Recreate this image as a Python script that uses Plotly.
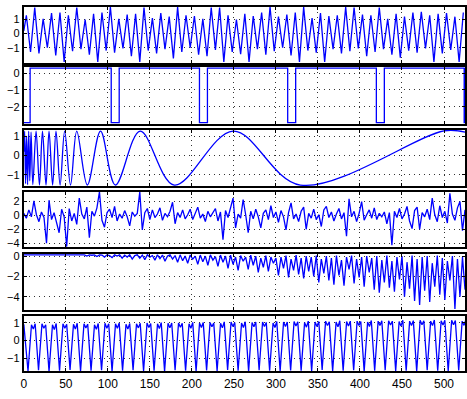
import plotly.graph_objects as go

# ---------------- data ----------------
X_MAX = 525

# 1) two-tone oscillation: peaks and troughs
P1_START = (0, 0.2)
P1_PEAK_X = [3, 13, 23, 33, 43, 53, 63, 73, 83, 93, 103, 113, 123, 133, 143, 153, 163, 173, 183, 193,
             203, 213, 223, 233, 243, 253, 263, 273, 283, 293, 303, 313, 323, 333, 343, 353, 363, 373,
             383, 393, 403, 413, 423, 433, 443, 453, 463, 473, 483, 493, 503, 513, 523]
P1_PEAK_Y = [1.3, 1.85, 1.05, 1.45, 1.5, 1.3, 1.85, 1.0, 1.4, 1.5, 1.88, 1.05, 1.35, 1.4, 1.85, 1.1,
             1.45, 1.2, 1.88, 1.3, 1.25, 1.05, 1.85, 1.85, 1.3, 1.0, 1.4, 1.25, 1.5, 1.88, 1.2, 1.35,
             1.5, 1.88, 1.1, 1.45, 1.25, 1.3, 1.88, 1.85, 1.35, 1.3, 1.85, 1.05, 1.4, 1.2, 1.5, 1.55,
             1.3, 1.4, 1.45, 1.2, 1.5]
P1_TROUGH_X = [8, 18, 28, 38, 48, 58, 68, 78, 88, 98, 108, 118, 128, 138, 148, 158, 168, 178, 188, 198,
               208, 218, 228, 238, 248, 258, 268, 278, 288, 298, 308, 318, 328, 338, 348, 358, 368,
               378, 388, 398, 408, 418, 428, 438, 448, 458, 468, 478, 488, 498, 508, 518]
P1_TROUGH_Y = [-1.3, -1.4, -1.0, -1.55, -2.0, -1.25, -1.1, -1.5, -2.0, -1.2, -1.35, -1.05, -1.6, -2.0,
               -1.2, -1.4, -1.1, -1.75, -1.3, -1.0, -1.5, -1.6, -1.15, -2.0, -1.3, -1.45, -2.0, -1.1,
               -1.5, -1.25, -1.0, -1.55, -2.0, -1.2, -1.35, -2.0, -1.1, -1.4, -1.25, -1.05, -1.6, -1.3,
               -1.1, -1.5, -1.7, -1.2, -1.35, -1.05, -2.0, -1.4, -1.15, -2.0]

# 2) pulse train
PULSE_START = [0, 104, 209, 314, 419.5, 524]
PULSE_END = [7.5, 113.5, 218.5, 323.5, 429, 525]
PULSE_HIGH = 0.31
PULSE_LOW = -2.95

# 3) chirp with falling frequency: extrema
P3_X = [0, 1, 2.1, 3.3, 4.5, 5.8, 7.1, 8.6, 10.7, 14.6, 18.6, 22.2, 26.4, 30, 34.3, 38.3, 43.2, 48.6,
        55.6, 63, 75.6, 91.3, 109, 138.4, 179, 249, 329, 500, 525]
P3_Y = [0.2, 1.25, -1.45, 1.0, -1.5, 1.25, -1.3, 1.2, -1.5, 1.25, -1.52, 1.25, -1.52, 1.26, -1.52,
        1.26, -1.52, 1.26, -1.52, 1.26, -1.52, 1.26, -1.52, 1.26, -1.52, 1.26, -1.52, 1.27, 1.2]

# 4) noise, one value every 3 samples
P4_STEP = 3
P4_Y = [0.3, -0.4, 0.8, -0.2, 2.1, 0.1, -0.9, 0.5, -0.3, -4.0,
        2.2, -0.6, 0.4, -1.1, -2.5, 0.9, -0.2, -4.5, 1.0, -0.8,
        0.3, -1.3, 2.5, 0.2, -0.5, 1.2, -3.2, 0.6, -0.1, 1.1,
        3.4, -0.7, -1.7, 0.4, 0.9, -0.3, 1.3, -0.8, 0.2, -0.4,
        0.7, -0.2, -1.5, 0.5, -0.1, 0.3, 3.4, -2.1, 0.4, 1.0,
        -0.6, 0.8, -0.3, 0.2, 1.1, -0.7, 0.3, -0.2, 0.6, 1.9,
        -1.2, 0.4, -0.3, 0.8, -0.5, 0.1, 0.9, -0.6, 0.3, 1.2,
        -0.4, 0.2, -0.9, 0.6, -0.2, 0.4, 1.0, -0.8, 0.5, -3.5,
        0.7, -0.3, 1.1, 2.5, -1.8, 0.2, -0.4, 2.3, 0.1, -2.5,
        0.6, -0.5, 0.9, -0.2, -1.8, 0.3, 0.8, -0.6, 1.4, -0.3,
        0.5, -1.0, 0.7, -0.2, -2.1, 0.4, 1.8, -0.5, 0.2, -0.9,
        0.6, 1.2, -2.0, 0.3, -0.4, 0.9, -0.6, 0.1, -1.6, 0.8,
        1.3, -0.3, 0.5, -0.8, 0.2, 1.0, -0.5, 0.4, -3.0, 2.4,
        -0.2, 0.6, -0.9, 0.3, 2.0, -0.7, 0.1, 0.8, -0.4, 1.1,
        -0.6, 0.3, -0.2, 0.5, -1.2, 0.4, -4.3, 0.6, -0.3, 1.0,
        -0.5, 0.2, 1.3, -0.8, -1.9, 0.7, 1.2, -2.0, 0.4, -0.2,
        0.9, -0.6, 2.5, 0.1, -0.9, 1.4, -0.3, 0.6, -1.1, 3.2,
        0.2, -0.7, 1.1, 2.0, -2.2, 0.8]

# 5) one-sided bursts growing in depth, one value every 3 samples
P5_STEP = 3
P5_Y = [0.12, 0.12, 0.12, 0.12, 0.12, 0.12, 0.12, 0.12, 0.12, 0.12,
        0.12, 0.12, 0.12, 0.12, 0.12, 0.12, 0.12, 0.12, 0.12, 0.12,
        0.1, 0.12, 0.05, 0.12, 0.12, 0.0, 0.12, 0.08, 0.12, -0.05,
        0.12, 0.1, -0.1, 0.12, 0.05, -0.15, 0.12, 0.0, 0.12, -0.2,
        0.1, -0.1, 0.12, -0.3, 0.05, 0.12, -0.2, 0.1, -0.35, 0.12,
        -0.1, 0.05, -0.4, 0.12, -0.25, 0.1, -0.5, 0.0, 0.12, -0.3,
        0.05, -0.6, 0.12, -0.45, 0.0, -0.7, 0.1, -0.3, 0.0, -0.8,
        0.1, -0.55, 0.0, -0.9, 0.12, -0.4, -0.05, -1.0, 0.1, -0.6,
        0.0, -1.2, 0.1, -0.8, -0.1, -1.4, 0.05, -0.5, -0.1, -1.3,
        0.1, -0.9, 0.0, -1.6, -0.2, -1.1, 0.05, -1.5, -0.1, -0.7,
        -0.2, -1.9, -0.1, -1.2, 0.05, -2.1, -0.3, -1.4, 0.1, -1.8,
        -0.2, -2.2, 0.0, -1.5, -0.1, -2.0, 0.05, -2.6, -0.3, -1.7,
        0.0, -2.4, -0.2, -2.8, 0.05, -1.9, -0.4, -2.9, -0.1, -1.3,
        0.05, -2.7, -0.3, -2.1, -0.1, -3.0, 0.0, -1.6, -0.2, -3.3,
        0.0, -3.6, -0.4, -2.6, 0.05, -3.1, -0.5, -3.5, -0.1, -2.3,
        0.0, -4.0, -0.6, -3.2, 0.05, -4.4, -0.3, -4.8, -0.1, -3.4,
        0.0, -4.5, -0.7, -3.0, 0.05, -3.8, -0.2, -4.3, -0.5, -2.4,
        0.0, -5.2, -0.3, -4.0, -0.1, -3.3]

# 6) notched oscillation: per-cycle troughs and double-humped tops
P6_START = (0, 0.92)
P6_TROUGH_X = [5, 17.5, 30, 42.5, 55, 67.5, 80, 92.5, 105, 117.5, 130, 142.5, 155, 167.5, 180, 192.5,
               205, 217.5, 230, 242.5, 255, 267.5, 280, 292.5, 305, 317.5, 330, 342.5, 355, 367.5,
               380, 392.5, 405, 417.5, 430, 442.5, 455, 467.5, 480, 492.5, 505, 517.5]
P6_TROUGH_Y = [-1.72, -1.68, -1.74, -1.7, -1.66, -1.73, -1.7, -1.68, -1.74, -1.71, -1.67, -1.72, -1.7,
               -1.74, -1.68, -1.71, -1.73, -1.69, -1.72, -1.66, -1.7, -1.74, -1.68, -1.71, -1.73,
               -1.69, -1.7, -1.72, -1.66, -1.73, -1.7, -1.68, -1.74, -1.71, -1.67, -1.72, -1.7, -1.74,
               -1.68, -1.71, -1.73, -1.69]
P6_TOP_X = [11.3, 23.8, 36.3, 48.8, 61.3, 73.8, 86.3, 98.8, 111.3, 123.8, 136.3, 148.8, 161.3, 173.8,
            186.3, 198.8, 211.3, 223.8, 236.3, 248.8, 261.3, 273.8, 286.3, 298.8, 311.3, 323.8,
            336.3, 348.8, 361.3, 373.8, 386.3, 398.8, 411.3, 423.8, 436.3, 448.8, 461.3, 473.8,
            486.3, 498.8, 511.3, 523.8]
P6_TOP_A = [0.9, 0.95, 0.9, 0.95, 0.92, 0.95, 0.9, 0.98, 0.95, 0.92, 0.95, 1.0, 0.95, 0.98, 1.0, 0.95,
            1.0, 1.02, 0.98, 1.05, 1.0, 1.02, 1.05, 1.0, 1.05, 1.08, 1.02, 1.05, 1.1, 1.05, 1.08, 1.1,
            1.05, 1.1, 1.12, 1.08, 1.1, 1.15, 1.1, 1.12, 1.15, 1.1]
P6_NOTCH = [0.65, 0.7, 0.62, 0.7, 0.66, 0.72, 0.64, 0.7, 0.7, 0.66, 0.72, 0.74, 0.68, 0.72, 0.76, 0.7,
            0.74, 0.78, 0.72, 0.8, 0.74, 0.78, 0.8, 0.74, 0.8, 0.82, 0.76, 0.8, 0.85, 0.78, 0.82, 0.86,
            0.8, 0.85, 0.88, 0.82, 0.86, 0.9, 0.85, 0.88, 0.9, 0.86]
P6_TOP_B = [0.95, 0.9, 0.97, 0.92, 0.98, 0.93, 0.97, 0.95, 1.0, 0.97, 0.98, 0.97, 1.02, 1.0, 0.98,
            1.03, 1.02, 1.0, 1.06, 1.02, 1.07, 1.05, 1.03, 1.08, 1.05, 1.06, 1.1, 1.08, 1.07, 1.12,
            1.1, 1.08, 1.14, 1.12, 1.1, 1.15, 1.13, 1.12, 1.17, 1.15, 1.13, 1.18]

X_TICKS = [0, 50, 100, 150, 200, 250, 300, 350, 400, 450, 500]
Y_TICKS = [[-1, 0, 1], [-2, -1, 0], [-1, 0, 1], [-4, -2, 0, 2], [-4, -2, 0], [-1, 0, 1]]
Y_RANGES = [[-2.05, 1.91], [-3.04, 0.39], [-1.58, 1.32], [-4.62, 3.44], [-5.31, 0.22], [-1.74, 1.39]]

# ---------------- assemble polylines ----------------
def merge_extrema(start, xs1, ys1, xs2, ys2):
    pts = sorted(list(zip(xs1, ys1)) + list(zip(xs2, ys2)))
    pts = [start] + pts
    return [p[0] for p in pts], [p[1] for p in pts]

s1x, s1y = merge_extrema(P1_START, P1_PEAK_X, P1_PEAK_Y, P1_TROUGH_X, P1_TROUGH_Y)

s2x, s2y = [], []
for a, b in zip(PULSE_START, PULSE_END):
    s2x += [a, b]
    s2y += [PULSE_LOW, PULSE_HIGH]

s4x = [i * P4_STEP for i in range(len(P4_Y))]
s5x = [i * P5_STEP for i in range(len(P5_Y))]

HUMP = 2.2  # half-width of the double-humped top
s6x, s6y = [P6_START[0]], [P6_START[1]]
for tx, ty, cx, a, n, b in zip(P6_TROUGH_X, P6_TROUGH_Y, P6_TOP_X, P6_TOP_A, P6_NOTCH, P6_TOP_B):
    s6x += [tx, cx - HUMP, cx, cx + HUMP]
    s6y += [ty, a, n, b]

series = [
    dict(x=s1x, y=s1y, shape="linear"),
    dict(x=s2x, y=s2y, shape="hv"),
    dict(x=P3_X, y=P3_Y, shape="spline"),
    dict(x=s4x, y=P4_Y, shape="linear"),
    dict(x=s5x, y=P5_Y, shape="linear"),
    dict(x=s6x, y=s6y, shape="linear"),
]

# ---------------- figure ----------------
W, H = 467, 399
LEFT_PX, RIGHT_PX = 21, 466
PANELS_PX = [(2.7, 59.3), (63.5, 121.7), (127.5, 184.5), (190, 246.5), (253, 310), (316, 372)]
FONT = dict(family="Liberation Sans, Arial, sans-serif", size=12, color="black")
Y_FONT = dict(FONT, size=11)

fig = go.Figure()
layout = dict(
    width=W, height=H, margin=dict(l=0, r=0, t=0, b=0),
    paper_bgcolor="white", plot_bgcolor="white", showlegend=False, font=FONT,
)

for i, (s, (top, bot)) in enumerate(zip(series, PANELS_PX)):
    n = "" if i == 0 else str(i + 1)
    fig.add_trace(go.Scatter(
        x=s["x"], y=s["y"], mode="lines",
        line=dict(color="#0000ff", width=1.3, shape=s["shape"]),
        xaxis="x" + n, yaxis="y" + n, hoverinfo="skip",
    ))
    common = dict(
        showline=True, linecolor="black", linewidth=2, mirror="allticks",
        ticks="inside", ticklen=3, tickcolor="black", tickwidth=1,
        showgrid=True, gridcolor="#333333", gridwidth=1, griddash="1px,4px",
        zeroline=False,
    )
    layout["xaxis" + n] = dict(
        common, domain=[LEFT_PX / W, RIGHT_PX / W], anchor="y" + n, tickfont=FONT,
        range=[0, X_MAX], tickvals=X_TICKS, showticklabels=(i == len(series) - 1),
    )
    layout["yaxis" + n] = dict(
        common, domain=[1 - bot / H, 1 - top / H], anchor="x" + n, tickfont=Y_FONT,
        range=Y_RANGES[i], tickvals=Y_TICKS[i],
        ticktext=[str(v).replace("-", "\u2212") for v in Y_TICKS[i]],
    )

fig.update_layout(**layout)
fig.write_html("out.html")
